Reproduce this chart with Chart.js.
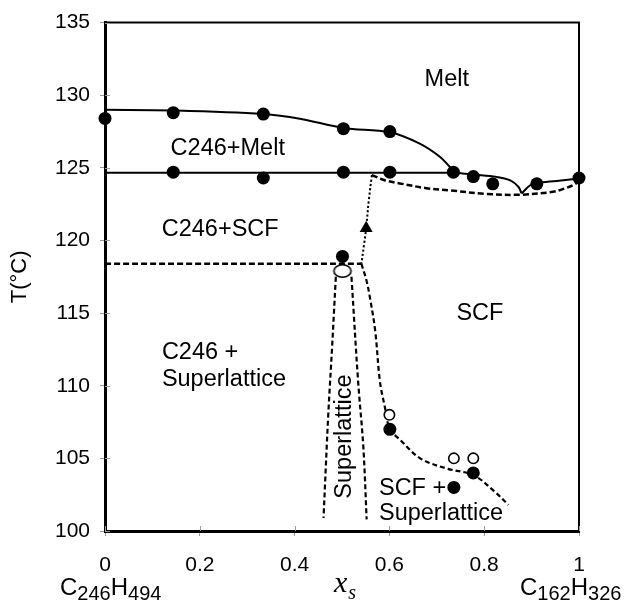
<!DOCTYPE html>
<html>
<head>
<meta charset="utf-8">
<script src="https://cdn.jsdelivr.net/npm/chart.js@4.4.0/dist/chart.umd.min.js"></script>
<style>
  html, body { margin: 0; padding: 0; background: #fff; }
  canvas { display: block; }
</style>
</head>
<body>
<canvas id="phase" width="635" height="602"></canvas>
<script>
// ---- axis ticks ----
const xTickValues = [0, 0.2, 0.4, 0.6, 0.8, 1];
const xTickLabels = ['0', '0.2', '0.4', '0.6', '0.8', '1'];
const yTickValues = [100, 105, 110, 115, 120, 125, 130, 135];

// ---- measured transitions (mole fraction of C162H326, temperature in °C) ----
const liquidusPtsX = [0, 0.144, 0.334, 0.503, 0.601];
const liquidusPtsT = [128.4, 128.8, 128.7, 127.7, 127.5];
const solidusPtsX = [0.144, 0.334, 0.503, 0.601, 0.735, 0.777, 0.818, 0.911, 1.0];
const solidusPtsT = [124.7, 124.3, 124.7, 124.7, 124.7, 124.4, 123.9, 123.9, 124.3];
const scfFilledX = [0.501, 0.601, 0.736, 0.777];
const scfFilledT = [118.9, 107.0, 103.0, 104.0];
const scfOpenX = [0.600, 0.736, 0.777];
const scfOpenT = [108.0, 105.0, 105.0];
const superOpenX = [0.501];
const superOpenT = [117.9];
const heatingX = [0.551];
const heatingT = [120.85];

// ---- phase boundaries ----
const liquidusCurveX = [0, 0.144, 0.334, 0.411, 0.503, 0.601, 0.664, 0.707, 0.731, 0.745, 0.777, 0.826, 0.854, 0.872, 0.879];
const liquidusCurveT = [129.0, 128.95, 128.7, 128.38, 127.75, 127.45, 126.67, 125.75, 124.95, 124.66, 124.55, 124.38, 124.15, 123.7, 123.24];
const liquidusRightX = [0.879, 0.897, 0.911, 0.953, 1.0];
const liquidusRightT = [123.24, 123.8, 123.95, 124.1, 124.27];
const solidusLineX = [0, 0.745];
const solidusLineT = [124.66, 124.66];
const scfTopX = [0.563, 0.59, 0.622, 0.678, 0.728, 0.805, 0.876, 0.945, 0.967, 0.99, 1.0];
const scfTopT = [124.5, 124.15, 123.93, 123.6, 123.45, 123.2, 123.15, 123.35, 123.55, 123.85, 124.1];
const heatingPathX = [0.563, 0.556, 0.551, 0.546, 0.541];
const heatingPathT = [124.5, 122.6, 120.85, 119.6, 118.4];
const eutectoidX = [0, 0.541];
const eutectoidT = [118.4, 118.4];
const scfSideX = [0.541, 0.552, 0.559, 0.570, 0.580, 0.590, 0.601, 0.622, 0.665, 0.721, 0.777, 0.819, 0.851];
const scfSideT = [118.4, 117.2, 116.05, 113.8, 110.3, 108.6, 107.0, 106.3, 105.0, 104.3, 103.85, 102.8, 101.8];
const superLeftX = [0.487, 0.479, 0.471, 0.461];
const superLeftT = [117.5, 112.6, 108.0, 100.9];
const superRightX = [0.520, 0.534, 0.545, 0.552];
const superRightT = [117.5, 110.3, 105.8, 100.8];

// ---- region labels ----
const regionText = ['Melt', 'C246+Melt', 'C246+SCF', 'C246 +', 'Superlattice', 'SCF', 'SCF +', 'Superlattice', 'Superlattice'];
const regionX = [0.721, 0.259, 0.243, 0.120, 0.120, 0.791, 0.578, 0.578, 0.506];
const regionT = [131.1, 126.3, 120.75, 112.3, 110.45, 115.0, 102.95, 101.2, 106.5];
const regionAlign = ['center', 'center', 'center', 'left', 'left', 'center', 'left', 'left', 'center'];
const regionVertical = [false, false, false, false, false, false, false, false, true];

const SANS = "'Liberation Sans', Arial, Helvetica, sans-serif";
const SERIF = "'Liberation Serif', 'Times New Roman', serif";

function pts(xs, ys) { return xs.map((x, i) => ({ x: x, y: ys[i] })); }

// open elliptical marker
function ellipseMarker() {
  const c = document.createElement('canvas');
  c.width = 22; c.height = 16;
  const g = c.getContext('2d');
  g.beginPath();
  g.ellipse(11, 8, 8.6, 6.2, 0, 0, Math.PI * 2);
  g.fillStyle = '#fff';
  g.fill();
  g.lineWidth = 1.6;
  g.strokeStyle = '#000';
  g.stroke();
  return c;
}

function curve(xs, ys, dash, width) {
  return {
    data: pts(xs, ys), showLine: true, pointRadius: 0, pointHoverRadius: 0,
    borderColor: '#000', borderWidth: width, borderDash: dash, tension: 0.35,
    fill: false, clip: false
  };
}

function marks(xs, ys, style) {
  return Object.assign({ data: pts(xs, ys), showLine: false, clip: false }, style);
}

const filled = { pointStyle: 'circle', pointRadius: 6.5, backgroundColor: '#000', borderColor: '#000', borderWidth: 0 };

const frameAndLabels = {
  id: 'frameAndLabels',
  beforeDatasetsDraw(chart) {
    const { ctx, chartArea: a, scales } = chart;
    ctx.save();
    // top and right frame
    ctx.strokeStyle = '#000';
    ctx.lineWidth = 2;
    ctx.beginPath();
    ctx.moveTo(a.left, a.top);
    ctx.lineTo(a.right, a.top);
    ctx.lineTo(a.right, a.bottom);
    ctx.stroke();
    // inward tick marks
    ctx.strokeStyle = '#9a9a9a';
    ctx.lineWidth = 1;
    ctx.beginPath();
    xTickValues.forEach(v => {
      const px = Math.round(scales.x.getPixelForValue(v)) + 0.5;
      ctx.moveTo(px, a.bottom); ctx.lineTo(px, a.bottom - 5);
    });
    yTickValues.forEach(v => {
      const py = Math.round(scales.y.getPixelForValue(v)) + 0.5;
      ctx.moveTo(a.left, py); ctx.lineTo(a.left + 5, py);
    });
    ctx.stroke();
    ctx.restore();
  },
  afterDraw(chart) {
    const { ctx, scales } = chart;
    ctx.save();
    ctx.fillStyle = '#000';
    ctx.textBaseline = 'middle';
    ctx.font = '23.5px ' + SANS;
    regionText.forEach((t, i) => {
      const px = scales.x.getPixelForValue(regionX[i]);
      const py = scales.y.getPixelForValue(regionT[i]);
      ctx.textAlign = regionAlign[i];
      if (regionVertical[i]) {
        ctx.save();
        ctx.translate(px, py);
        ctx.rotate(-Math.PI / 2);
        ctx.textAlign = 'center';
        ctx.fillText(t, 0, 0);
        ctx.restore();
      } else {
        ctx.fillText(t, px, py);
      }
    });

    // end-member formulas and composition symbol under the axis
    ctx.textAlign = 'left';
    ctx.textBaseline = 'alphabetic';
    function formula(parts, x, base) {
      parts.forEach(p => {
        ctx.font = (p[1] ? '20px ' : '24px ') + SANS;
        ctx.fillText(p[0], x, base + (p[1] ? 5 : 0));
        x += ctx.measureText(p[0]).width;
      });
    }
    formula([['C', 0], ['246', 1], ['H', 0], ['494', 1]], 60, 595);
    formula([['C', 0], ['162', 1], ['H', 0], ['326', 1]], 520, 595);
    ctx.font = 'italic 30px ' + SERIF;
    ctx.fillText('x', 334, 592);
    const w = ctx.measureText('x').width;
    ctx.font = 'italic 20px ' + SERIF;
    ctx.fillText('s', 334 + w + 1, 599);
    ctx.restore();
  }
};

new Chart(document.getElementById('phase'), {
  type: 'scatter',
  data: {
    datasets: [
      marks(heatingX, heatingT, { pointStyle: 'triangle', pointRadius: 7.5, backgroundColor: '#000', borderColor: '#000', borderWidth: 0 }),
      marks(superOpenX, superOpenT, { pointStyle: ellipseMarker(), pointRadius: 8 }),
      marks(scfOpenX, scfOpenT, { pointStyle: 'circle', pointRadius: 5.2, backgroundColor: '#fff', borderColor: '#000', borderWidth: 1.6 }),
      marks(liquidusPtsX, liquidusPtsT, filled),
      marks(solidusPtsX, solidusPtsT, filled),
      marks(scfFilledX, scfFilledT, filled),
      curve(liquidusCurveX, liquidusCurveT, [], 2),
      curve(liquidusRightX, liquidusRightT, [], 2),
      curve(solidusLineX, solidusLineT, [], 2),
      curve(scfTopX, scfTopT, [6, 3], 2.5),
      curve(heatingPathX, heatingPathT, [2.2, 2.2], 2),
      curve(eutectoidX, eutectoidT, [6, 3], 2.5),
      curve(scfSideX, scfSideT, [5, 3], 2.2),
      curve(superLeftX, superLeftT, [5, 3], 2.2),
      curve(superRightX, superRightT, [5, 3], 2.2)
    ]
  },
  options: {
    responsive: false,
    animation: false,
    devicePixelRatio: 1,
    layout: { padding: { top: 20, right: 56, left: 0, bottom: 0 } },
    plugins: { legend: { display: false }, tooltip: { enabled: false } },
    scales: {
      x: {
        type: 'linear', min: 0, max: 1,
        afterBuildTicks: s => { s.ticks = xTickValues.map(v => ({ value: v })); },
        afterFit: s => { s.height = 71; },
        ticks: {
          callback: (v, i) => xTickLabels[i],
          color: '#000', padding: 17, maxRotation: 0,
          font: { family: SANS, size: 21 }
        },
        grid: { drawOnChartArea: false, tickLength: 5, color: '#9a9a9a' },
        border: { color: '#000', width: 3 }
      },
      y: {
        type: 'linear', min: 100, max: 135,
        afterBuildTicks: s => { s.ticks = yTickValues.map(v => ({ value: v })); },
        afterFit: s => { s.width = 105; },
        ticks: {
          callback: v => String(v),
          color: '#000', padding: 10,
          font: { family: SANS, size: 21 }
        },
        grid: { drawOnChartArea: false, tickLength: 5, color: '#9a9a9a' },
        border: { color: '#000', width: 3 },
        title: {
          display: true, text: 'T(°C)', color: '#000',
          padding: { top: 7, bottom: 0 },
          font: { family: SANS, size: 22 }
        }
      }
    }
  },
  plugins: [frameAndLabels]
});
</script>
</body>
</html>
